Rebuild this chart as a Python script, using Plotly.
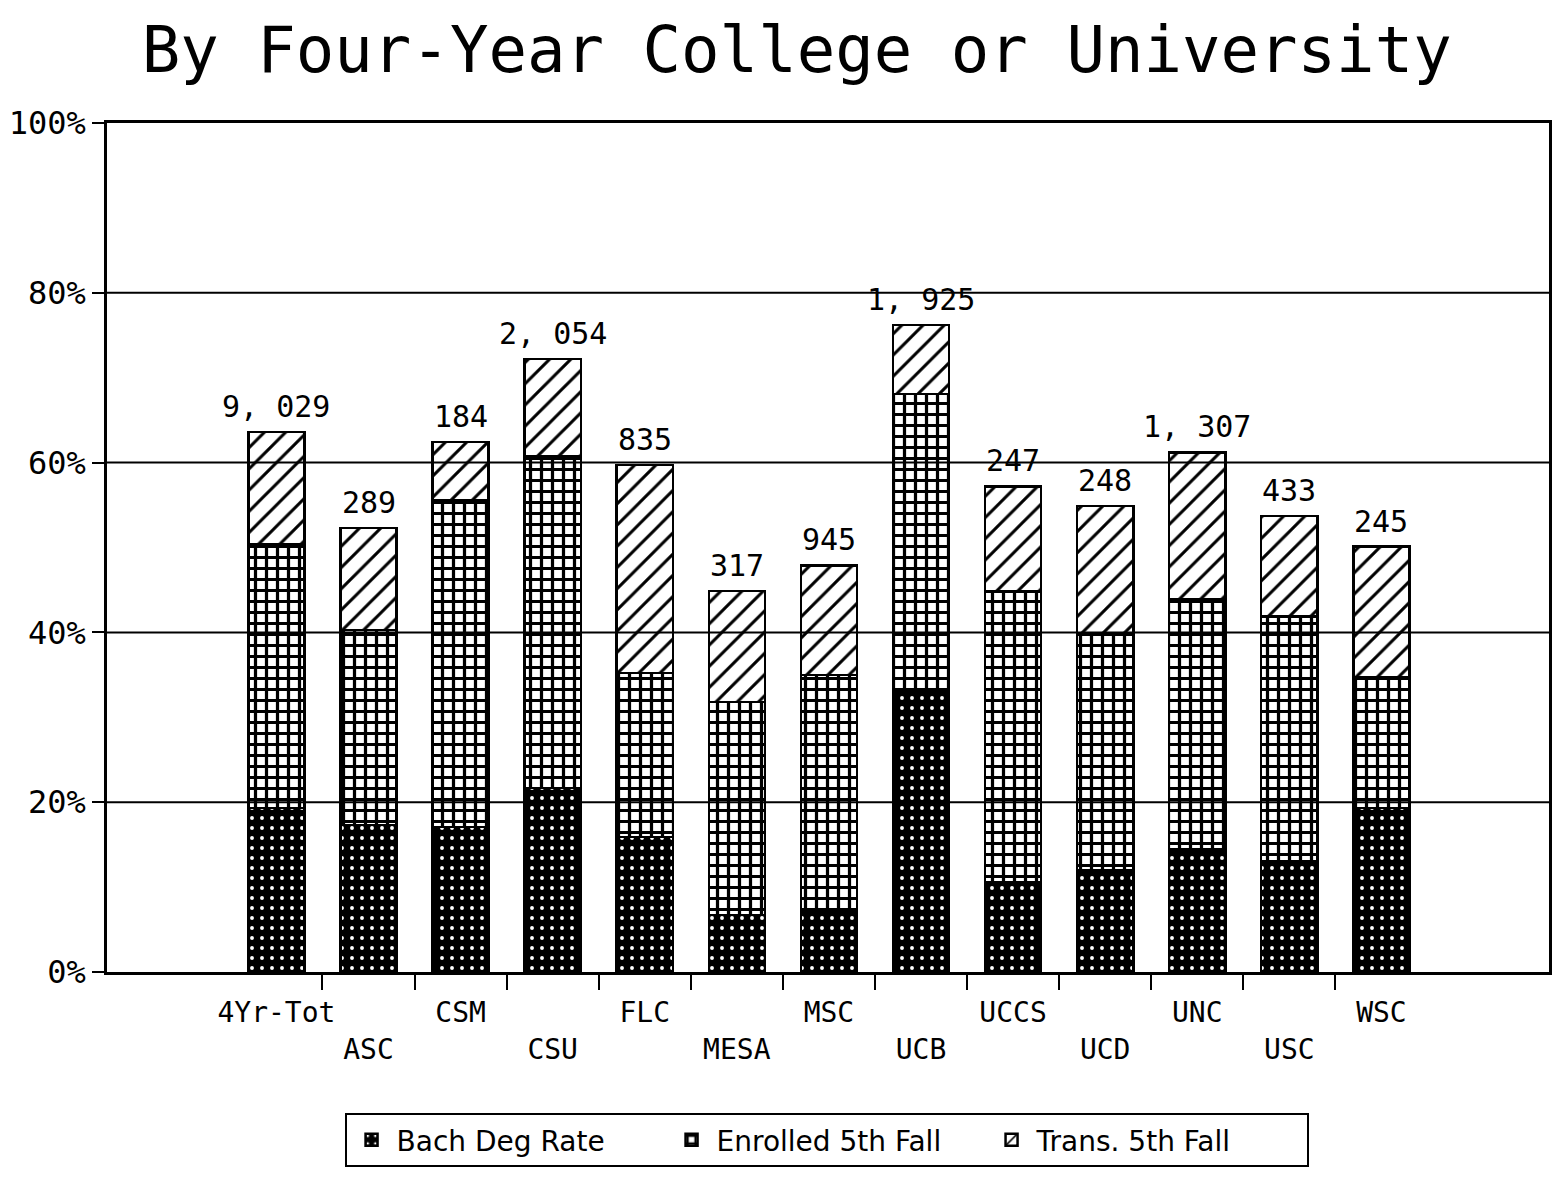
import plotly.graph_objects as go

categories = ["4Yr-Tot", "ASC", "CSM", "CSU", "FLC", "MESA", "MSC",
              "UCB", "UCCS", "UCD", "UNC", "USC", "WSC"]
bach_deg = [19.3, 17.3, 17.1, 21.7, 15.9, 6.7, 7.3, 33.2, 10.6, 12.0, 14.4, 13.0, 19.3]
enrolled_5th = [31.1, 23.0, 38.5, 39.1, 19.3, 25.1, 27.7, 34.9, 34.2, 27.9, 29.5, 28.9, 15.4]
trans_5th = [13.2, 12.0, 6.8, 11.4, 24.5, 13.1, 12.9, 8.1, 12.4, 15.0, 17.3, 11.8, 15.4]
cohort_labels = ["9, 029", "289", "184", "2, 054", "835", "317", "945",
                 "1, 925", "247", "248", "1, 307", "433", "245"]
y_ticks = [0, 20, 40, 60, 80, 100]
grid_vals = [20, 40, 60, 80]

MONO = "DejaVu Sans Mono"
x = list(range(len(categories)))
totals = [a + b + c for a, b, c in zip(bach_deg, enrolled_5th, trans_5th)]
tick_text = [c if i % 2 == 0 else "<br>" + c for i, c in enumerate(categories)]
between = [i + 0.5 for i in range(len(categories) - 1)]
y_tick_text = [f"{v}%" for v in y_ticks]

fig = go.Figure()
line = dict(color="black", width=2.5)
fig.add_trace(go.Bar(
    x=x, y=bach_deg, name="Bach Deg Rate", width=0.61,
    marker=dict(color="black", line=line,
                pattern=dict(shape=".", fgcolor="white", bgcolor="black",
                             fgopacity=1, size=10, solidity=0.12)),
))
fig.add_trace(go.Bar(
    x=x, y=enrolled_5th, name="Enrolled 5th Fall", width=0.61,
    marker=dict(color="white", line=line,
                pattern=dict(shape="+", fgcolor="black", bgcolor="white",
                             fgopacity=1, size=11, solidity=0.5)),
))
fig.add_trace(go.Bar(
    x=x, y=trans_5th, name="Trans. 5th Fall", width=0.61,
    marker=dict(color="white", line=line,
                pattern=dict(shape="/", fgcolor="black", bgcolor="white",
                             fgopacity=1, size=15, solidity=0.2)),
))

for xi, yi, t in zip(x, totals, cohort_labels):
    fig.add_annotation(x=xi, y=yi, text=t, showarrow=False, xref="x", yref="y",
                       yanchor="bottom", yshift=6,
                       font=dict(family=MONO, size=30, color="black"))

for g in grid_vals:
    fig.add_shape(type="line", xref="paper", yref="y", x0=0, x1=1, y0=g, y1=g,
                  line=dict(color="black", width=2), layer="above")

fig.update_layout(
    width=1556, height=1182,
    margin=dict(l=107, r=4, t=123, b=210),
    paper_bgcolor="white", plot_bgcolor="white",
    barmode="stack",
    title=dict(text="By Four-Year College or University",
               font=dict(family=MONO, size=64, color="black"),
               x=0.512, xanchor="center", xref="container",
               y=1 - 50 / 1182, yanchor="middle", yref="container"),
    showlegend=True,
    legend=dict(orientation="h", x=0.499, xanchor="center", y=-0.166, yanchor="top",
                bordercolor="black", borderwidth=2, bgcolor="white",
                font=dict(family="DejaVu Sans", size=28, color="black"),
                traceorder="normal", itemwidth=40,
                entrywidth=265, entrywidthmode="pixels"),
    xaxis=dict(range=[-1.84, 13.82], tickmode="array", tickvals=x, ticktext=tick_text,
               ticks="", showgrid=False, zeroline=False,
               showline=True, linecolor="black", linewidth=2.5, mirror=True,
               tickfont=dict(family=MONO, size=28, color="black"),
               ticklabelstandoff=14,
               minor=dict(tickmode="array", tickvals=between, ticks="outside",
                          ticklen=15, tickwidth=2, tickcolor="black", showgrid=False)),
    yaxis=dict(range=[0, 100], tickmode="array", tickvals=y_ticks, ticktext=y_tick_text,
               ticks="outside", ticklen=12, tickwidth=2, tickcolor="black",
               showgrid=False, zeroline=False,
               showline=True, linecolor="black", linewidth=2.5, mirror=True,
               tickfont=dict(family=MONO, size=32, color="black")),
)

fig.write_html("out.html")
